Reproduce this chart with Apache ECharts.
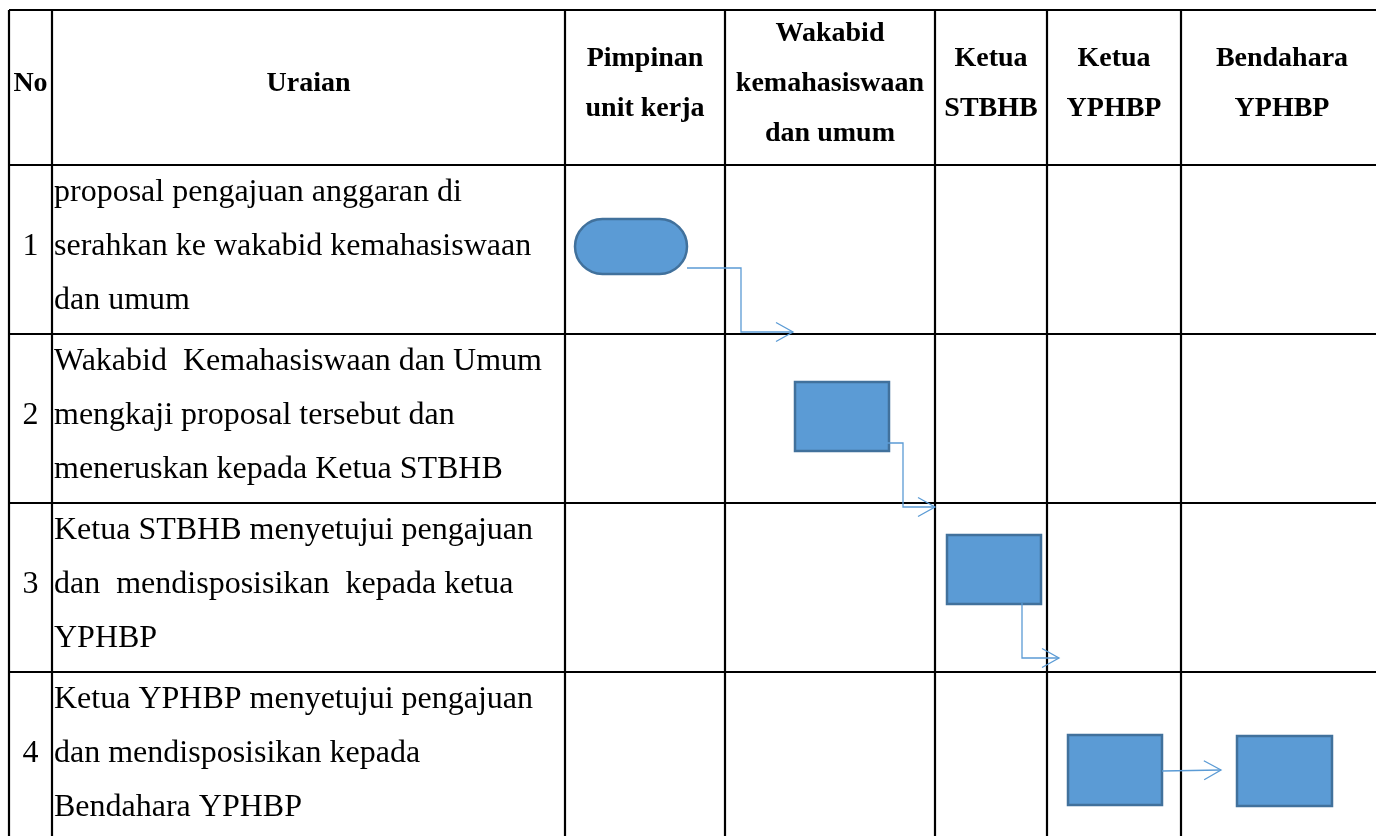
<!DOCTYPE html>
<html>
<head>
<meta charset="utf-8">
<title>Alur pengajuan anggaran</title>
<script src="https://cdn.jsdelivr.net/npm/echarts@6/dist/echarts.min.js"></script>
<style>
    html, body { margin: 0; padding: 0; background: #fff; }
    #main { width: 1376px; height: 836px; }
</style>
</head>
<body>
<div id="main"></div>
<script>
// kolom tabel
var headers = ['No', 'Uraian', 'Pimpinan\nunit kerja', 'Wakabid\nkemahasiswaan\ndan umum', 'Ketua\nSTBHB', 'Ketua\nYPHBP', 'Bendahara\nYPHBP'];
// langkah
var stepNumbers = ['1', '2', '3', '4'];
var stepDescriptions = [
    'proposal pengajuan anggaran di\nserahkan ke wakabid kemahasiswaan\ndan umum',
    'Wakabid  Kemahasiswaan dan Umum\nmengkaji proposal tersebut dan\nmeneruskan kepada Ketua STBHB',
    'Ketua STBHB menyetujui pengajuan\ndan  mendisposisikan  kepada ketua\nYPHBP',
    'Ketua YPHBP menyetujui pengajuan\ndan mendisposisikan kepada\nBendahara YPHBP'
];
// simbol alur: baris langkah, kolom pelaksana, jenis
var nodeStep = [0, 1, 2, 3, 3];
var nodeActor = [2, 3, 4, 5, 6];
var nodeShape = ['terminator', 'process', 'process', 'process', 'process'];
// panah
var linkFrom = [0, 1, 2, 3];
var linkTo = [1, 2, 3, 4];

// tata letak (px)
var colEdges = [9, 52, 565, 725, 935, 1047, 1181, 1383];
var rowEdges = [10, 165, 334, 503, 672, 841];
// offset kotak di dalam sel: dx, dy, w, h
var nodeBox = [[10, 54, 112, 55], [70, 48, 94, 69], [12, 32, 94, 69], [21, 63, 94, 70], [56, 64, 95, 70]];
// jalur panah
var linkPaths = [
    [[687, 268], [741, 268], [741, 332], [793, 332]],
    [[887, 443], [903, 443], [903, 507], [935, 507]],
    [[1022, 603], [1022, 658], [1059, 658]],
    [[1162, 771], [1221, 770]]
];

var FONT = "'Liberation Serif', 'Times New Roman', serif";

var myChart = echarts.init(document.getElementById('main'));

function idx(n) {
    var a = [];
    for (var i = 0; i < n; i++) a.push([i]);
    return a;
}

function pt(api, p) {
    return api.coord([p[0], p[1]]);
}

option = {
    animation: false,
    grid: {left: 0, right: 0, top: 0, bottom: 0},
    xAxis: {type: 'value', min: 0, max: 1376, show: false},
    yAxis: {type: 'value', min: 0, max: 836, inverse: true, show: false},
    series: [
        // garis tabel
        {
            type: 'custom',
            data: idx(colEdges.length + rowEdges.length),
            clip: false,
            renderItem: function (params, api) {
                var i = api.value(0);
                var a, b;
                if (i < colEdges.length) {
                    a = pt(api, [colEdges[i], rowEdges[0]]);
                    b = pt(api, [colEdges[i], rowEdges[rowEdges.length - 1]]);
                } else {
                    var r = rowEdges[i - colEdges.length];
                    a = pt(api, [colEdges[0], r]);
                    b = pt(api, [colEdges[colEdges.length - 1], r]);
                }
                return {
                    type: 'line',
                    shape: {x1: a[0], y1: a[1], x2: b[0], y2: b[1]},
                    style: {stroke: '#000', lineWidth: 2.2}
                };
            }
        },
        // judul kolom
        {
            type: 'custom',
            data: idx(headers.length),
            renderItem: function (params, api) {
                var i = api.value(0);
                var c = pt(api, [(colEdges[i] + colEdges[i + 1]) / 2, (rowEdges[0] + rowEdges[1]) / 2 - 4]);
                return {
                    type: 'text',
                    x: c[0],
                    y: c[1],
                    style: {
                        text: headers[i],
                        fontFamily: FONT,
                        fontWeight: 'bold',
                        fontSize: 28,
                        lineHeight: 50,
                        fill: '#000',
                        align: 'center',
                        verticalAlign: 'middle'
                    }
                };
            }
        },
        // nomor langkah
        {
            type: 'custom',
            data: idx(stepNumbers.length),
            renderItem: function (params, api) {
                var i = api.value(0);
                var c = pt(api, [(colEdges[0] + colEdges[1]) / 2, (rowEdges[i + 1] + rowEdges[i + 2]) / 2 - 3]);
                return {
                    type: 'text',
                    x: c[0],
                    y: c[1],
                    style: {
                        text: stepNumbers[i],
                        fontFamily: FONT,
                        fontSize: 32,
                        fill: '#000',
                        align: 'center',
                        verticalAlign: 'middle'
                    }
                };
            }
        },
        // uraian
        {
            type: 'custom',
            data: idx(stepDescriptions.length),
            renderItem: function (params, api) {
                var i = api.value(0);
                var c = pt(api, [colEdges[1] + 2, (rowEdges[i + 1] + rowEdges[i + 2]) / 2 - 3]);
                return {
                    type: 'text',
                    x: c[0],
                    y: c[1],
                    style: {
                        text: stepDescriptions[i],
                        fontFamily: FONT,
                        fontSize: 32,
                        lineHeight: 54,
                        fill: '#000',
                        align: 'left',
                        verticalAlign: 'middle'
                    }
                };
            }
        },
        // simbol alur
        {
            type: 'custom',
            data: idx(nodeStep.length),
            renderItem: function (params, api) {
                var i = api.value(0);
                var b = nodeBox[i];
                var p0 = pt(api, [colEdges[nodeActor[i]] + b[0], rowEdges[nodeStep[i] + 1] + b[1]]);
                var p1 = pt(api, [colEdges[nodeActor[i]] + b[0] + b[2], rowEdges[nodeStep[i] + 1] + b[1] + b[3]]);
                var h = p1[1] - p0[1];
                return {
                    type: 'rect',
                    shape: {
                        x: p0[0], y: p0[1], width: p1[0] - p0[0], height: h,
                        r: nodeShape[i] === 'terminator' ? h / 2 : 0
                    },
                    style: {fill: '#5b9bd5', stroke: '#41719c', lineWidth: 2.5}
                };
            }
        },
        // panah
        {
            type: 'custom',
            data: idx(linkFrom.length),
            renderItem: function (params, api) {
                var i = api.value(0);
                var pts = linkPaths[i].map(function (p) { return pt(api, p); });
                var e = pts[pts.length - 1], s = pts[pts.length - 2];
                var dx = e[0] - s[0], dy = e[1] - s[1];
                var len = Math.sqrt(dx * dx + dy * dy);
                var ux = dx / len, uy = dy / len;
                var back = 17, side = 9.5;
                var head = [
                    [e[0] - ux * back - uy * side, e[1] - uy * back + ux * side],
                    e,
                    [e[0] - ux * back + uy * side, e[1] - uy * back - ux * side]
                ];
                return {
                    type: 'group',
                    children: [
                        {type: 'polyline', shape: {points: pts}, style: {stroke: '#5b9bd5', lineWidth: 1.3, fill: null}},
                        {type: 'polyline', shape: {points: head}, style: {stroke: '#5b9bd5', lineWidth: 1.3, fill: null}}
                    ]
                };
            }
        }
    ]
};

myChart.setOption(option);
</script>
</body>
</html>
